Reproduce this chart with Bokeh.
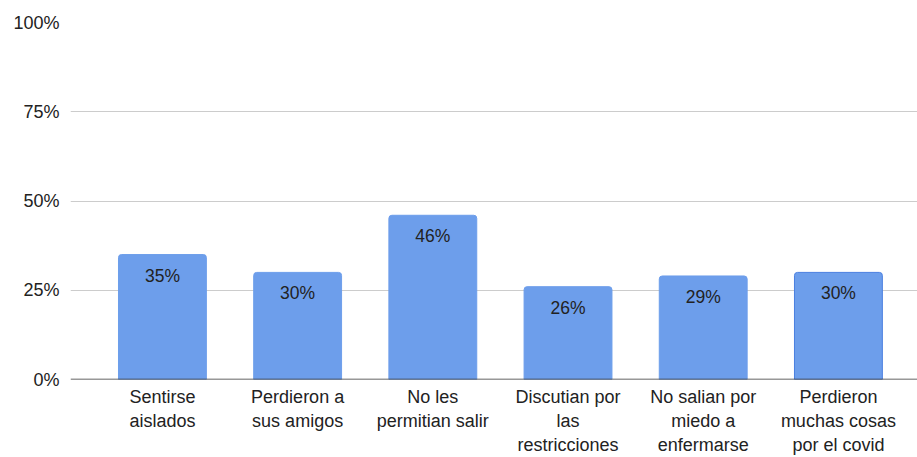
from bokeh.plotting import figure
from bokeh.models import ColumnDataSource, Range1d, FixedTicker, NumeralTickFormatter, Span
from bokeh.embed import file_html
from bokeh.resources import INLINE
from bokeh.core.properties import value

categories = ["Sentirse\naislados", "Perdieron a\nsus amigos", "No les\npermitian salir",
              "Discutian por\nlas\nrestricciones", "No salian por\nmiedo a\nenfermarse",
              "Perdieron\nmuchas cosas\npor el covid"]
values = [0.35, 0.30, 0.46, 0.26, 0.29, 0.30]
labels = ["35%", "30%", "46%", "26%", "29%", "30%"]
y_ticks = [0, 0.25, 0.5, 0.75, 1.0]

xs = list(range(len(categories)))
line_colors = ["#6d9eeb"] * 5 + ["#4a7fe0"]
src = ColumnDataSource(dict(x=xs, top=values, label=labels, lc=line_colors))

p = figure(width=917, height=457, output_backend="svg", toolbar_location=None,
           x_range=Range1d(-0.68, 5.585), y_range=Range1d(0, 1.0),
           min_border_left=70, min_border_right=0, min_border_top=22, min_border_bottom=78)
p.outline_line_color = None
p.background_fill_color = "white"
p.border_fill_color = "white"

p.vbar(x="x", top="top", width=0.65, source=src, fill_color="#6d9eeb", line_color="lc",
       line_width=1, border_radius=(3, 3, 0, 0))
p.text(x="x", y="top", text="label", source=src, y_offset=11, text_align="center",
       text_baseline="top", text_font=value("Liberation Sans"), text_font_size="17.5px",
       text_color="#222222")

p.add_layout(Span(location=0, dimension="width", line_color="#333333", line_width=1.5))

p.xgrid.grid_line_color = None
p.ygrid.grid_line_color = "#cccccc"
p.ygrid.grid_line_width = 1

p.yaxis.ticker = FixedTicker(ticks=y_ticks)
p.yaxis.formatter = NumeralTickFormatter(format="0%")
p.xaxis.ticker = FixedTicker(ticks=xs)
p.xaxis.major_label_overrides = {i: c for i, c in enumerate(categories)}

for ax in (p.xaxis, p.yaxis):
    ax.axis_line_color = None
    ax.major_tick_line_color = None
    ax.minor_tick_line_color = None
    ax.major_tick_out = 0
    ax.major_tick_in = 0
    ax.major_label_text_font = "Liberation Sans"
    ax.major_label_text_font_size = "18px"
    ax.major_label_text_color = "#222222"
p.yaxis.major_label_standoff = 11
p.xaxis.major_label_standoff = 7

open("out.html", "w").write(file_html(p, INLINE))
